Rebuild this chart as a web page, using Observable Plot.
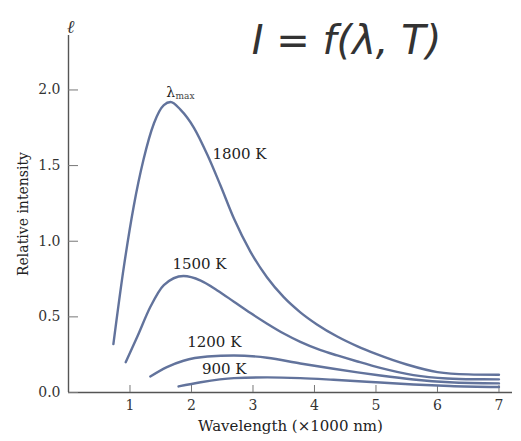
<!DOCTYPE html>
<html>
<head>
<meta charset="utf-8">
<script src="https://cdn.jsdelivr.net/npm/d3@7"></script>
<script src="https://cdn.jsdelivr.net/npm/@observablehq/plot@0.6"></script>
<style>
  html, body { margin: 0; padding: 0; background: #fff; }
</style>
</head>
<body>
<div id="chart"></div>
<script>
// Wavelength (×1000 nm) and relative intensity
const wl1800 = [0.73, 0.90, 1.06, 1.22, 1.39, 1.55, 1.66, 1.82, 2.04, 2.26, 2.47, 2.69, 2.96, 3.23, 3.50, 3.77, 4.04, 4.37, 4.70, 5.00, 5.50, 6.00, 6.50, 7.00];
const in1800 = [0.32, 0.83, 1.23, 1.54, 1.78, 1.90, 1.92, 1.87, 1.75, 1.57, 1.37, 1.15, 0.93, 0.76, 0.63, 0.53, 0.45, 0.37, 0.305, 0.255, 0.185, 0.135, 0.12, 0.117];

const wl1500 = [0.93, 1.12, 1.33, 1.55, 1.87, 2.15, 2.42, 2.69, 2.96, 3.23, 3.50, 3.77, 4.10, 4.37, 4.70, 5.07, 5.61, 6.16, 6.60, 7.00];
const in1500 = [0.20, 0.37, 0.565, 0.71, 0.77, 0.74, 0.675, 0.60, 0.525, 0.455, 0.39, 0.335, 0.28, 0.245, 0.205, 0.163, 0.115, 0.093, 0.088, 0.087];

const wl1200 = [1.33, 1.60, 1.87, 2.26, 2.69, 3.23, 3.77, 4.31, 4.70, 5.07, 5.61, 6.20, 7.00];
const in1200 = [0.106, 0.168, 0.21, 0.238, 0.245, 0.23, 0.192, 0.157, 0.133, 0.112, 0.086, 0.068, 0.060];

const wl900 = [1.79, 2.15, 2.69, 3.23, 3.77, 4.31, 5.07, 5.61, 6.20, 7.00];
const in900 = [0.04, 0.068, 0.095, 0.10, 0.095, 0.084, 0.066, 0.053, 0.043, 0.036];

const seriesNames = ["1800 K", "1500 K", "1200 K", "900 K"];
const xTicks = [1, 2, 3, 4, 5, 6, 7];
const yTicks = [0, 0.5, 1, 1.5, 2];
const yTickLabels = ["0.0", "0.5", "1.0", "1.5", "2.0"];

// label anchor points (data units)
const labelX = [2.34, 1.69, 1.93, 2.17];
const labelY = [1.575, 0.85, 0.334, 0.157];
const peakLabelX = [1.66];
const peakLabelY = [1.98];

const table = [];
[[wl1800, in1800], [wl1500, in1500], [wl1200, in1200], [wl900, in900]].forEach(([w, v], i) => {
  w.forEach((x, j) => table.push({series: seriesNames[i], x, y: v[j]}));
});
const labels = seriesNames.map((s, i) => ({text: s, x: labelX[i], y: labelY[i]}));

const serif = "'DejaVu Serif', 'Liberation Serif', serif";
const ink = "#333";
const curve = "#62739c";

const chart = Plot.plot({
  width: 521,
  height: 441,
  marginLeft: 68,
  marginRight: 9,
  marginTop: 35,
  marginBottom: 49,
  style: {fontFamily: serif, fontSize: "14px", color: ink, background: "#fff"},
  x: {domain: [0, 7.22]},
  y: {domain: [0, 2.36]},
  marks: [
    Plot.ruleX([0], {stroke: "#555", strokeWidth: 1.4}),
    Plot.ruleY([0], {stroke: "#555", strokeWidth: 1.4}),
    Plot.axisY(yTicks, {tickSize: -10, tickPadding: 18, tickFormat: (d) => yTickLabels[yTicks.indexOf(d)], label: null, stroke: "#777", fill: ink, fontSize: 14}),
    Plot.axisX(xTicks, {tickSize: -7, tickPadding: 15, label: null, stroke: "#777", fill: ink, fontSize: 14}),
    Plot.line(table, {x: "x", y: "y", z: "series", stroke: curve, strokeWidth: 2.4, curve: "monotone-x"}),
    Plot.text(labels, {x: "x", y: "y", text: "text", textAnchor: "start", fill: "#222", fontSize: 15}),
    Plot.text(["λ"], {x: peakLabelX, y: peakLabelY, textAnchor: "middle", fill: "#222", fontSize: 14}),
    Plot.text(["max"], {x: peakLabelX, y: peakLabelY, dx: 5, dy: 3, textAnchor: "start", fill: "#444", fontSize: 9}),
    Plot.text(["Relative intensity"], {frameAnchor: "left", dx: -45, rotate: -90, textAnchor: "middle", fill: "#222", fontSize: 14}),
    Plot.text(["Wavelength (×1000 nm)"], {frameAnchor: "bottom", dy: 38, textAnchor: "middle", fill: "#222", fontSize: 15}),
    Plot.text(["ℓ"], {frameAnchor: "top-left", dx: 2, dy: -15, textAnchor: "middle", fill: "#333", fontSize: 18, fontStyle: "italic"}),
    Plot.text(["I = f(λ, T)"], {frameAnchor: "top", dx: 56, dy: -10, textAnchor: "middle", fill: "#333", fontSize: 40, fontStyle: "italic", fontFamily: "'DejaVu Sans', sans-serif", fontWeight: 300})
  ]
});
document.getElementById("chart").appendChild(chart);
</script>
</body>
</html>
